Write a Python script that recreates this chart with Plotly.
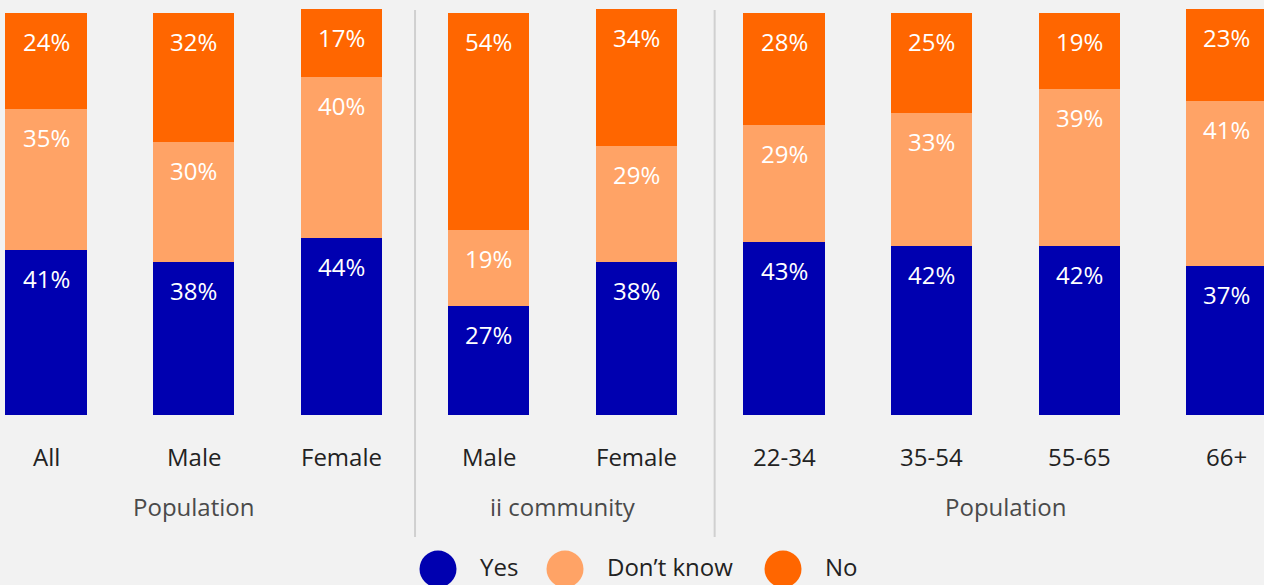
import plotly.graph_objects as go

# Survey answers per segment (percent)
categories = ["All", "Male", "Female", "Male", "Female", "22-34", "35-54", "55-65", "66+"]
yes = [41, 38, 44, 27, 38, 43, 42, 42, 37]
dont_know = [35, 30, 40, 19, 29, 29, 33, 39, 41]
no = [24, 32, 17, 54, 34, 28, 25, 19, 23]

group_names = ["Population", "ii community", "Population"]
group_centers = [1, 3.5, 6.5]
separators = [2.5, 4.53]

series_names = ["Yes", "Don\u2019t know", "No"]
colors = ["#0000b0", "#ffa366", "#ff6600"]

FONT = "Open Sans, Lato, sans-serif"
BG = "#f2f2f2"
W, H = 1264, 585
MT, MB = 0, 170
X_RANGE = [-0.312, 8.252]
Y_RANGE = [0, 103.2]

x = list(range(len(categories)))
fig = go.Figure()

series = [yes, dont_know, no]
for name, vals, col in zip(series_names, series, colors):
    fig.add_trace(go.Bar(
        x=x, y=vals, name=name, marker=dict(color=col, line=dict(width=0)),
        width=0.55, showlegend=False, hoverinfo="skip",
    ))

annotations = []
# value labels near the top of each segment
base = [0] * len(categories)
for vals in series:
    for i, v in enumerate(vals):
        top = base[i] + v
        annotations.append(dict(
            x=i, y=top, xref="x", yref="y", text=f"{v}%", showarrow=False,
            yanchor="top", yshift=-10,
            font=dict(family=FONT, size=24, color="white"),
        ))
        base[i] = top

# category labels
for i, c in enumerate(categories):
    annotations.append(dict(
        x=i, y=0, xref="x", yref="paper", text=c, showarrow=False,
        yanchor="middle", yshift=-41,
        font=dict(family=FONT, size=24, color="#222222"),
    ))

# group labels
for g, cx in zip(group_names, group_centers):
    annotations.append(dict(
        x=cx, y=0, xref="x", yref="paper", text=g, showarrow=False,
        yanchor="middle", yshift=-91,
        font=dict(family=FONT, size=24, color="#4a4a4a"),
    ))

plot_h = H - MT - MB


def px_to_paper_y(py):
    return (H - MB - py) / plot_h


def data_to_paper_x(dx):
    return (dx - X_RANGE[0]) / (X_RANGE[1] - X_RANGE[0])


shapes = []
for sx in separators:
    px = data_to_paper_x(sx)
    shapes.append(dict(
        type="line", xref="paper", yref="paper", x0=px, x1=px,
        y0=px_to_paper_y(10), y1=px_to_paper_y(537),
        line=dict(color="#d0d0d0", width=2),
    ))

# legend drawn as large circles with labels
legend_x = [438, 565, 783]
legend_y = 569
for name, col, lx in zip(series_names, colors, legend_x):
    cxp = lx / W
    cyp = px_to_paper_y(legend_y)
    shapes.append(dict(
        type="circle", xref="paper", yref="paper",
        xsizemode="pixel", ysizemode="pixel",
        xanchor=cxp, yanchor=cyp, x0=-18.5, x1=18.5, y0=-18.5, y1=18.5,
        fillcolor=col, line=dict(width=0),
    ))
    annotations.append(dict(
        x=(lx + 40) / W, y=px_to_paper_y(legend_y - 3), xref="paper", yref="paper",
        text=name, showarrow=False, xanchor="left", yanchor="middle",
        font=dict(family=FONT, size=24, color="#222222"),
    ))

fig.update_layout(
    barmode="stack",
    width=W, height=H,
    margin=dict(l=0, r=0, t=MT, b=MB, pad=0),
    paper_bgcolor=BG, plot_bgcolor=BG,
    xaxis=dict(range=X_RANGE, showgrid=False, zeroline=False, showticklabels=False,
               showline=False, fixedrange=True),
    yaxis=dict(range=Y_RANGE, showgrid=False, zeroline=False, showticklabels=False,
               showline=False, fixedrange=True),
    annotations=annotations,
    shapes=shapes,
    showlegend=False,
    bargap=0,
)

fig.write_html("out.html", config={"displayModeBar": False})
